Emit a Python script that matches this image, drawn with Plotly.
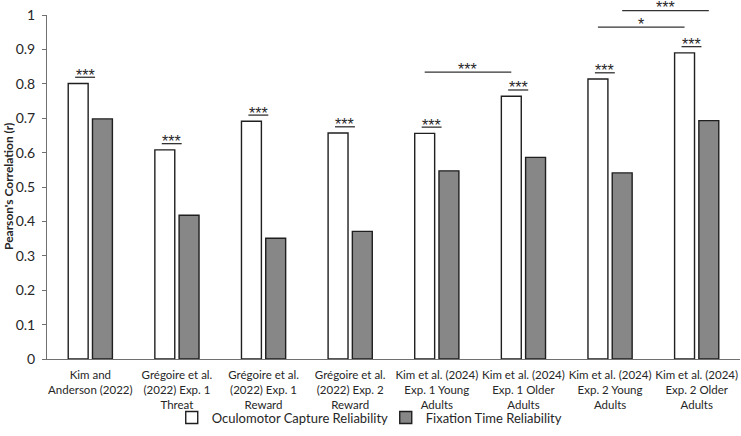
import plotly.graph_objects as go

categories = [
    "Kim and<br>Anderson (2022)",
    "Grégoire et al.<br>(2022) Exp. 1<br>Threat",
    "Grégoire et al.<br>(2022) Exp. 1<br>Reward",
    "Grégoire et al.<br>(2022) Exp. 2<br>Reward",
    "Kim et al. (2024)<br>Exp. 1 Young<br>Adults",
    "Kim et al. (2024)<br>Exp. 1 Older<br>Adults",
    "Kim et al. (2024)<br>Exp. 2 Young<br>Adults",
    "Kim et al. (2024)<br>Exp. 2 Older<br>Adults",
]
capture = [0.801, 0.608, 0.691, 0.657, 0.656, 0.764, 0.814, 0.890]
fixation = [0.698, 0.418, 0.351, 0.371, 0.547, 0.586, 0.541, 0.693]
pair_labels = ["***"] * 8
# (group a, group b, series, label, bracket height)
comparisons = [
    (4, 5, "capture", "***", 0.834),
    (6, 7, "capture", "*", 0.965),
    (6, 7, "fixation", "***", 1.013),
]

FONT = "Lato, 'Liberation Sans', Arial, sans-serif"
STAR_FONT = "'Liberation Sans', Arial, sans-serif"
TXT = "#262626"
x = list(range(len(categories)))
XMIN, XMAX = -0.5, len(categories) - 0.5
YMIN, YMAX = 0, 1
BW = 0.23
OFF_W, OFF_G = -0.255, 0.025
W, H = 741, 436
ML, MR, MT, MB = 47, 1, 15, 77

def xp(v):
    return (v - XMIN) / (XMAX - XMIN)

def yp(v):
    return (v - YMIN) / (YMAX - YMIN)

fig = go.Figure()
fig.add_trace(go.Bar(
    x=x, y=capture, name="Oculomotor Capture Reliability",
    width=BW, offset=OFF_W,
    marker=dict(color="white", line=dict(color="#1f1f1f", width=1.4)),
))
fig.add_trace(go.Bar(
    x=x, y=fixation, name="Fixation Time Reliability",
    width=BW, offset=OFF_G,
    marker=dict(color="#878787", line=dict(color="#1f1f1f", width=1.4)),
))

shapes = []
annotations = []
wc = OFF_W + BW / 2
gc = OFF_G + BW / 2
for i, (v, lab) in enumerate(zip(capture, pair_labels)):
    cx = i + wc + 0.08
    ly = v + 0.018
    shapes.append(dict(type="line", xref="paper", yref="paper",
                       x0=xp(cx - BW / 2), x1=xp(cx + BW / 2), y0=yp(ly), y1=yp(ly),
                       line=dict(color="#333", width=1.3)))
    annotations.append(dict(x=xp(cx), y=yp(ly), xref="paper", yref="paper", text=lab,
                            showarrow=False, xanchor="center", yanchor="middle", yshift=2,
                            font=dict(family=STAR_FONT, size=16, color=TXT)))

for a, b, ser, lab, h in comparisons:
    c = wc if ser == "capture" else gc
    xa, xb = a + c, b + c
    shapes.append(dict(type="line", xref="paper", yref="paper",
                       x0=xp(xa), x1=xp(xb), y0=yp(h), y1=yp(h),
                       line=dict(color="#333", width=1.3)))
    annotations.append(dict(x=xp((xa + xb) / 2), y=yp(h), xref="paper", yref="paper",
                            text=lab, showarrow=False, xanchor="center", yanchor="middle",
                            yshift=3, font=dict(family=STAR_FONT, size=16, color=TXT)))

# y-axis title as a rotated annotation
plot_w = W - ML - MR
annotations.append(dict(text="<b>Pearson's Correlation (r)</b>", textangle=-90,
                        xref="paper", yref="paper", x=(8 - ML) / plot_w, y=0.5,
                        xanchor="center", yanchor="middle", showarrow=False,
                        font=dict(family=FONT, size=12, color=TXT)))

fig.update_layout(
    width=W, height=H,
    margin=dict(l=ML, r=MR, t=MT, b=MB, autoexpand=False),
    paper_bgcolor="white", plot_bgcolor="white",
    barmode="overlay",
    font=dict(family=FONT, color=TXT, size=12),
    shapes=shapes, annotations=annotations,
    showlegend=True,
    legend=dict(orientation="h", x=0.18, xanchor="left", y=-0.17, yanchor="middle",
                bgcolor="rgba(0,0,0,0)",
                font=dict(size=13, family=FONT, color=TXT), traceorder="normal",
                itemwidth=30, entrywidth=169),
    xaxis=dict(range=[XMIN, XMAX], tickvals=x, ticktext=categories, tickangle=0,
               automargin=False, ticklabelstandoff=5, ticklabeloverflow="allow",
               showline=True, linecolor="#707070", linewidth=1, ticks="",
               showgrid=False, zeroline=False, tickfont=dict(size=11.5)),
    yaxis=dict(range=[YMIN, YMAX], dtick=0.1, tick0=0, automargin=False,
               showline=True, linecolor="#707070", linewidth=1,
               ticks="outside", ticklen=4, tickcolor="#707070", ticklabelstandoff=4,
               ticklabeloverflow="allow",
               showgrid=False, zeroline=False, tickfont=dict(size=14)),
)

fig.write_html("out.html", config={"displayModeBar": False},
               post_script="document.body.style.margin='0';document.body.style.padding='0';")
